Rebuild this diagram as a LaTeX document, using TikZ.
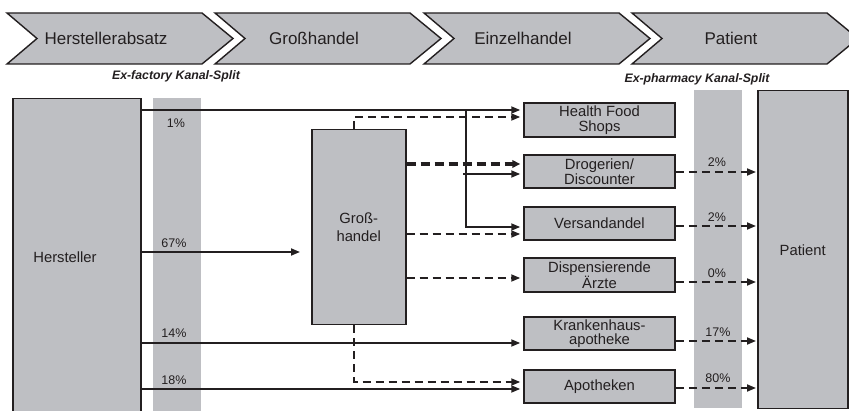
\documentclass[tikz,border=0pt]{standalone}
\usepackage{fontspec}
\setmainfont{Liberation Sans}
\usetikzlibrary{arrows.meta,calc}
\definecolor{boxgray}{RGB}{190,191,195}
\definecolor{linec}{RGB}{35,31,32}
\begin{document}
\begin{tikzpicture}[x=1pt,y=-1pt,
  box/.style={draw=linec, fill=boxgray, line width=1.5pt, inner sep=0pt, align=center, text=linec},
  band/.style={fill=boxgray, draw=none},
  conn/.style={draw=linec, line width=1.8pt, -{Triangle[length=9pt,width=7pt]}, shorten >=3pt},
  dconn/.style={conn, dash pattern=on 8pt off 5pt},
  tdconn/.style={conn, line width=3.2pt, dash pattern=on 9pt off 5pt, -{Triangle[length=8pt,width=7.5pt]}},
  pct/.style={font=\fontsize{12.5}{14}\selectfont, text=linec, inner sep=0pt},
  lbl/.style={font=\fontsize{14.8}{14.5}\selectfont},
  chev/.style={draw=linec, fill=boxgray, line width=1.4pt, line join=miter},
  chevtxt/.style={font=\fontsize{17}{19}\selectfont, text=linec, inner sep=0pt},
  split/.style={font=\fontsize{12.3}{14}\selectfont\bfseries\itshape, text=linec, inner sep=0pt}
]
\useasboundingbox (0,0) rectangle (849,411);
\fill[white] (0,0) rectangle (849,411);

% chevrons
\foreach \xo/\t/\n in {7/Herstellerabsatz/c1, 215/Großhandel/c2, 424/Einzelhandel/c3, 632/Patient/c4}{
  \path[chev] (\xo,13) -- ({\xo+195},13) -- ({\xo+226},38.5) -- ({\xo+195},64) -- (\xo,64) -- ({\xo+30},38.5) -- cycle;
  \node[chevtxt] (\n) at ({\xo+99},38.5) {\t};
}
\node[split] (exf) at (176,76) {Ex-factory Kanal-Split};
\node[split] (exp) at (697,79) {Ex-pharmacy Kanal-Split};

% bands
\fill[band] (153,98) rectangle (201,420);
\fill[band] (694,90) rectangle (742,408);

% boxes
\node[box, anchor=north west, minimum width=128pt, minimum height=330pt] (hst) at (12,98) {};
\node[lbl, text=linec] (hstlabel) at (65,257) {Hersteller};
\node[box, lbl, anchor=north west, minimum width=94pt, minimum height=195pt] (gh) at (311,129) {Groß-\\[3pt]handel};
\node[box, lbl, minimum width=151pt, minimum height=34pt] (hfs) at (599.5,120) {Health Food\\Shops};
\node[box, lbl, minimum width=151pt, minimum height=33pt] (drog) at (599.5,171.5) {Drogerien/\\Discounter};
\node[box, lbl, minimum width=151pt, minimum height=33pt] (vers) at (599.5,223.5) {Versandandel};
\node[box, lbl, minimum width=151pt, minimum height=34pt] (disp) at (599.5,275) {Dispensierende\\Ärzte};
\node[box, lbl, minimum width=151pt, minimum height=33pt] (kran) at (599.5,333.5) {Krankenhaus-\\apotheke};
\node[box, lbl, minimum width=151pt, minimum height=33pt] (apo) at (599.5,386.5) {Apotheken};
\node[box, lbl, anchor=north west, minimum width=90pt, minimum height=318pt] (pat) at (757,90) {Patient};

% helper coordinates
\coordinate (y110) at (0,110);
\coordinate (y117) at (0,117);
\coordinate (y164) at (0,164);
\coordinate (y174) at (0,174);
\coordinate (y227) at (0,227);
\coordinate (y234) at (0,234);
\coordinate (y252) at (0,252);
\coordinate (y278) at (0,278);
\coordinate (y343) at (0,343);
\coordinate (y382) at (0,382);
\coordinate (y389) at (0,389);
\coordinate (x354) at (354,0);
\coordinate (j1) at (466,110);
\coordinate (j2) at (463,174);
\coordinate (r172) at (0,172);
\coordinate (r226) at (0,226);
\coordinate (r282) at (0,282);
\coordinate (r341) at (0,341);
\coordinate (r388) at (0,388);

% solid connectors from Hersteller
\draw[conn] (hst.east |- y110) -- (hfs.west |- y110);
\draw[conn] (j1) |- (vers.west |- y227);
\draw[conn] (j2) -- (drog.west |- y174);
\draw[conn, shorten >=11pt] (hst.east |- y252) -- (gh.west |- y252);
\draw[conn] (hst.east |- y343) -- (kran.west |- y343);
\draw[conn] (hst.east |- y389) -- (apo.west |- y389);

% dashed from Grosshandel
\draw[dconn] (gh.north -| x354) |- (hfs.west |- y117);
\draw[tdconn] (gh.east |- y164) -- (drog.west |- y164);
\draw[dconn] (gh.east |- y234) -- (vers.west |- y234);
\draw[dconn] (gh.east |- y278) -- (disp.west |- y278);
\draw[dconn] (gh.south -| x354) |- (apo.west |- y382);

% dashed to patient
\draw[dconn, shorten >=1pt] (drog.east |- r172) -- (pat.west |- r172);
\draw[dconn, shorten >=1pt] (vers.east |- r226) -- (pat.west |- r226);
\draw[dconn, shorten >=1pt] (disp.east |- r282) -- (pat.west |- r282);
\draw[dconn, shorten >=1pt] (kran.east |- r341) -- (pat.west |- r341);
\draw[dconn, shorten >=1pt] (apo.east |- r388) -- (pat.west |- r388);

% percentages
\node[pct] (p1) at (176,123) {1\%};
\node[pct] (p67) at (174,243) {67\%};
\node[pct] (p14) at (174,333) {14\%};
\node[pct] (p18) at (174,380) {18\%};
\node[pct] (q1) at (717,162) {2\%};
\node[pct] (q2) at (717,217) {2\%};
\node[pct] (q3) at (717,273) {0\%};
\node[pct] (q4) at (718,332) {17\%};
\node[pct] (q5) at (718,378) {80\%};
\end{tikzpicture}
\end{document}
